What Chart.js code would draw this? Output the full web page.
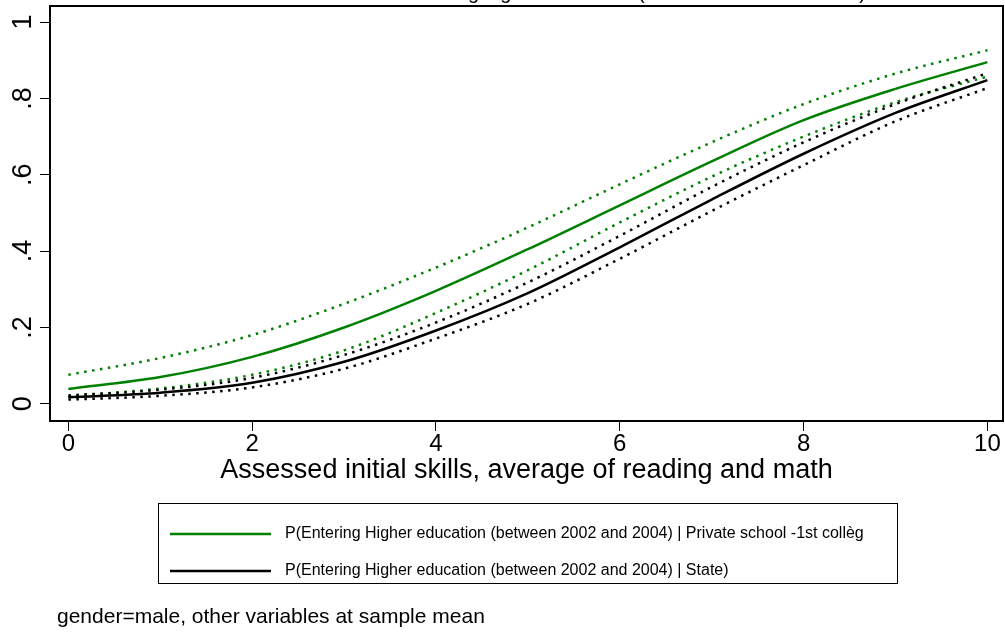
<!DOCTYPE html>
<html>
<head>
<meta charset="utf-8">
<script src="https://cdn.jsdelivr.net/npm/chart.js@4/dist/chart.umd.min.js"></script>
<style>
  html, body { margin: 0; padding: 0; background: #fff; }
  #wrap { width: 1005px; height: 637px; position: relative; }
</style>
</head>
<body>
<div id="wrap"><canvas id="c" width="1005" height="637"></canvas></div>
<script>
// Assessed initial skills (x) and predicted probabilities with 95% bands
const skills = [0, 1, 2, 3, 4, 5, 6, 7, 8, 9, 10];

const privateFit   = [0.039, 0.070, 0.123, 0.200, 0.296, 0.405, 0.520, 0.635, 0.743, 0.825, 0.895];
const privateUpper = [0.076, 0.120, 0.180, 0.262, 0.357, 0.462, 0.575, 0.685, 0.785, 0.865, 0.926];
const privateLower = [0.020, 0.040, 0.076, 0.140, 0.238, 0.350, 0.475, 0.595, 0.700, 0.790, 0.857];

const stateFit   = [0.017, 0.029, 0.055, 0.110, 0.192, 0.290, 0.410, 0.535, 0.655, 0.762, 0.848];
const stateUpper = [0.022, 0.037, 0.068, 0.128, 0.213, 0.318, 0.440, 0.568, 0.685, 0.785, 0.866];
const stateLower = [0.011, 0.021, 0.043, 0.092, 0.171, 0.262, 0.380, 0.505, 0.625, 0.740, 0.827];

const xTicks = [0, 2, 4, 6, 8, 10];
const yTicks = [0, 0.2, 0.4, 0.6, 0.8, 1];
const yTickLabels = ['0', '.2', '.4', '.6', '.8', '1'];

const seriesLabels = [
  'P(Entering Higher education (between 2002 and 2004) | Private school -1st collèg',
  'P(Entering Higher education (between 2002 and 2004) | State)'
];
const titleText = 'Entering higher education (between 2002 and 2004)';
const xTitle = 'Assessed initial skills, average of reading and math';
const noteText = 'gender=male, other variables at sample mean';

const GREEN = '#008000';
const BLACK = '#000000';
const FONT = '"Liberation Sans", Arial, sans-serif';

const pts = ys => skills.map((x, i) => ({ x: x, y: ys[i] }));

function lineSet(label, ys, color, dotted) {
  return {
    label: label,
    data: pts(ys),
    borderColor: color,
    backgroundColor: color,
    borderWidth: 2.5,
    borderDash: dotted ? [2.5, 5.5] : [],
    borderCapStyle: 'butt',
    pointRadius: 0,
    fill: false,
    cubicInterpolationMode: 'monotone'
  };
}

// first dataset is painted last (on top)
const datasets = [
  lineSet(seriesLabels[1], stateFit, BLACK, false),
  lineSet('State upper', stateUpper, BLACK, true),
  lineSet('State lower', stateLower, BLACK, true),
  lineSet(seriesLabels[0], privateFit, GREEN, false),
  lineSet('Private upper', privateUpper, GREEN, true),
  lineSet('Private lower', privateLower, GREEN, true)
];

// frame, rotated y labels, clipped title, boxed legend and note
const decorations = {
  id: 'decorations',
  afterDraw(chart) {
    const ctx = chart.ctx;
    const a = chart.chartArea;
    const ys = chart.scales.y;
    ctx.save();

    // plot frame
    ctx.strokeStyle = '#000';
    ctx.lineWidth = 2;
    ctx.strokeRect(a.left, a.top, a.right - a.left, a.bottom - a.top);

    // y tick labels, reading bottom to top
    ctx.fillStyle = '#000';
    ctx.font = '27px ' + FONT;
    ctx.textAlign = 'center';
    ctx.textBaseline = 'alphabetic';
    yTicks.forEach((v, i) => {
      const py = ys.getPixelForValue(v);
      ctx.save();
      ctx.translate(31, py);
      ctx.rotate(-Math.PI / 2);
      ctx.fillText(yTickLabels[i], 0, 0);
      ctx.restore();
    });

    // title (top edge of the page cuts it)
    ctx.font = '20px ' + FONT;
    ctx.textAlign = 'right';
    ctx.fillText(titleText, 866, -1);

    // legend box
    const bx = 158, by = 503, bw = 739, bh = 80;
    ctx.lineWidth = 1;
    ctx.strokeStyle = '#000';
    ctx.strokeRect(bx + 0.5, by + 0.5, bw, bh);
    const legendItems = [
      { ds: chart.data.datasets[3], y: 534 },
      { ds: chart.data.datasets[0], y: 571 }
    ];
    ctx.font = '16px ' + FONT;
    ctx.textAlign = 'left';
    ctx.textBaseline = 'middle';
    legendItems.forEach(item => {
      ctx.strokeStyle = item.ds.borderColor;
      ctx.lineWidth = 2.5;
      ctx.beginPath();
      ctx.moveTo(170, item.y);
      ctx.lineTo(271, item.y);
      ctx.stroke();
      ctx.fillStyle = '#000';
      ctx.fillText(item.ds.label, 285, item.y);
    });

    // note
    ctx.font = '21px ' + FONT;
    ctx.textBaseline = 'middle';
    ctx.fillText(noteText, 57, 617);

    ctx.restore();
  }
};

new Chart(document.getElementById('c'), {
  type: 'line',
  data: { datasets: datasets },
  options: {
    responsive: false,
    animation: false,
    devicePixelRatio: 1,
    layout: { padding: { top: 6, right: 2, left: 0, bottom: 150 } },
    plugins: { legend: { display: false }, tooltip: { enabled: false }, title: { display: false } },
    scales: {
      x: {
        type: 'linear',
        min: -0.2,
        max: 10.17,
        afterBuildTicks: s => { s.ticks = xTicks.map(v => ({ value: v })); },
        afterFit: s => { s.height = 66; },
        border: { display: false },
        grid: { drawOnChartArea: false, drawTicks: true, tickLength: 10, color: '#000', lineWidth: 1 },
        ticks: { color: '#000', font: { family: FONT, size: 24 }, padding: -1, maxRotation: 0, callback: v => String(v) },
        title: { display: true, text: xTitle, color: '#000', font: { family: FONT, size: 27 }, padding: { top: 0, bottom: 0 } }
      },
      y: {
        type: 'linear',
        min: -0.045,
        max: 1.042,
        afterBuildTicks: s => { s.ticks = yTicks.map(v => ({ value: v })); },
        afterFit: s => { s.width = 50; },
        border: { display: false },
        grid: { drawOnChartArea: false, drawTicks: true, tickLength: 10, color: '#000', lineWidth: 1 },
        ticks: { display: false }
      }
    }
  },
  plugins: [decorations]
});
</script>
</body>
</html>
